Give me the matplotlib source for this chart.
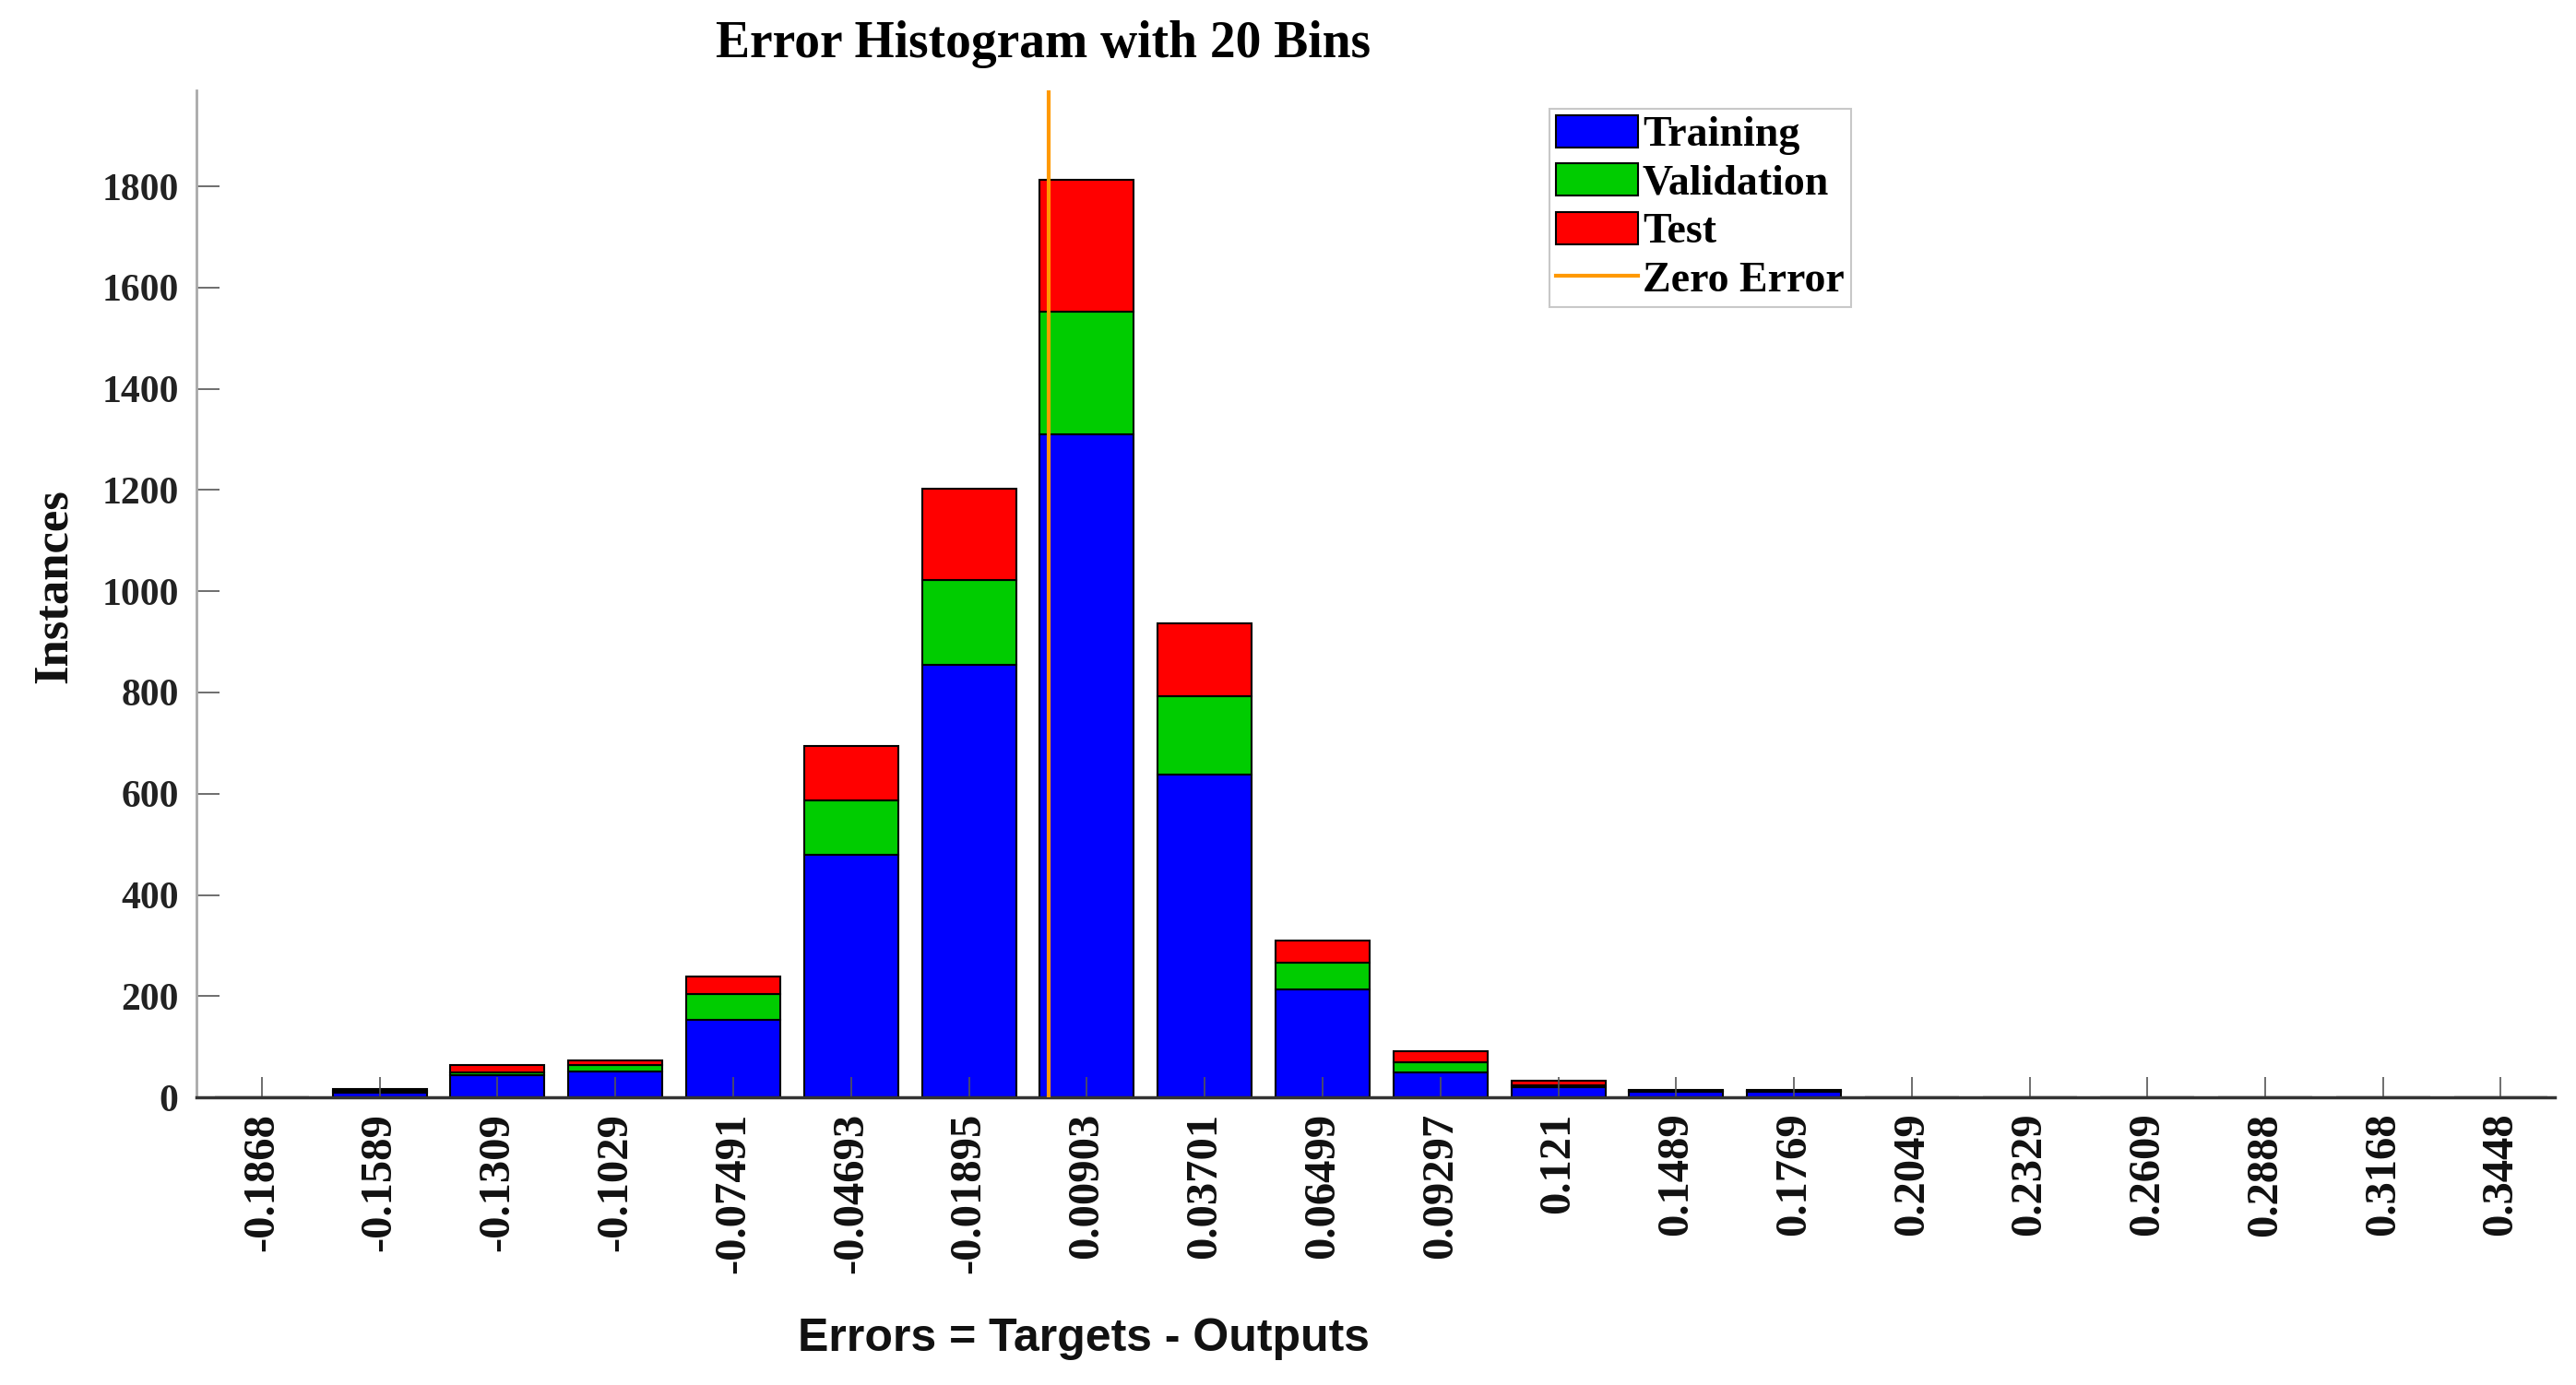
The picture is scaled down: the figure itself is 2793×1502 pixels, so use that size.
import matplotlib
matplotlib.use("Agg")
import matplotlib.pyplot as plt
import numpy as np

# bin centres and their printed labels
bin_labels = ["-0.1868", "-0.1589", "-0.1309", "-0.1029", "-0.07491", "-0.04693",
              "-0.01895", "0.00903", "0.03701", "0.06499", "0.09297", "0.121",
              "0.1489", "0.1769", "0.2049", "0.2329", "0.2609", "0.2888",
              "0.3168", "0.3448"]
bin_centers = [float(s) for s in bin_labels]

# instances per bin
training = [0, 10, 44, 51, 153, 480, 854, 1310, 638, 214, 50, 20, 11, 11, 0, 0, 0, 0, 0, 0]
validation = [0, 3, 6, 12, 51, 107, 169, 242, 155, 52, 20, 4, 2, 2, 0, 0, 0, 0, 0, 0]
test = [0, 3, 13, 10, 35, 107, 179, 261, 143, 44, 21, 8, 2, 2, 0, 0, 0, 0, 0, 0]

serif = "Liberation Serif"
sans = "Liberation Sans"

fig = plt.figure(figsize=(27.93, 15.02), dpi=100)
ax = fig.add_axes([0.0763, 0.2077, 0.9155, 0.7271])

step = bin_centers[1] - bin_centers[0]
width = 0.8 * step
x = np.array(bin_centers)
tr = np.array(training)
va = np.array(validation)
te = np.array(test)

b1 = ax.bar(x, tr, width=width, color="#0000ff", edgecolor="black", linewidth=1.5, label="Training")
b2 = ax.bar(x, va, width=width, bottom=tr, color="#00cc00", edgecolor="black", linewidth=1.5, label="Validation")
b3 = ax.bar(x, te, width=width, bottom=tr + va, color="#ff0000", edgecolor="black", linewidth=1.5, label="Test")
zl = ax.axvline(0, color="#ff9900", linewidth=3, label="Zero Error", zorder=5)

ax.set_xlim(bin_centers[0] - 0.558 * step, bin_centers[-1] + 0.46 * step)
ax.set_ylim(0, 1990)

ax.set_xticks(bin_centers)
ax.set_xticklabels(bin_labels, rotation=90, fontfamily=serif, fontweight="bold", fontsize=35)
ax.set_yticks(np.arange(0, 1801, 200))
ax.set_yticklabels([str(v) for v in range(0, 1801, 200)], fontfamily=serif, fontweight="bold", fontsize=30)
ax.tick_params(axis="y", direction="in", length=18, width=1.2, color="#555555", pad=14, labelcolor="#222222")
ax.tick_params(axis="x", direction="in", length=16, width=1.2, color="#555555", pad=12, labelcolor="#111111")

for side in ["top", "right"]:
    ax.spines[side].set_visible(False)
ax.spines["left"].set_color("#aaaaaa")
ax.spines["left"].set_linewidth(2)
ax.spines["bottom"].set_color("#333333")
ax.spines["bottom"].set_linewidth(2.5)

leg = ax.legend([b1, b2, b3, zl], ["Training", "Validation", "Test", "Zero Error"],
                loc="upper left", bbox_to_anchor=(0.5737, 0.9817), frameon=True, fancybox=False,
                prop={"family": serif, "weight": "bold", "size": 33},
                handlelength=1.95, handleheight=0.8, handletextpad=0.1, labelspacing=0.2,
                borderpad=0.15, borderaxespad=0)
leg.get_frame().set_edgecolor("#bbbbbb")
leg.get_frame().set_linewidth(1.5)

fig.text(0.405, 0.968, "Error Histogram with 20 Bins", ha="center", va="center",
         fontfamily=serif, fontweight="bold", fontsize=40)
fig.text(0.4207, 0.0333, "Errors = Targets - Outputs", ha="center", va="center",
         fontfamily=sans, fontweight="bold", fontsize=36, color="#111111")
fig.text(0.0211, 0.5766, "Instances", ha="center", va="center", rotation=90,
         fontfamily=serif, fontweight="bold", fontsize=38, color="#111111")

fig.savefig("out.png", dpi=100)
